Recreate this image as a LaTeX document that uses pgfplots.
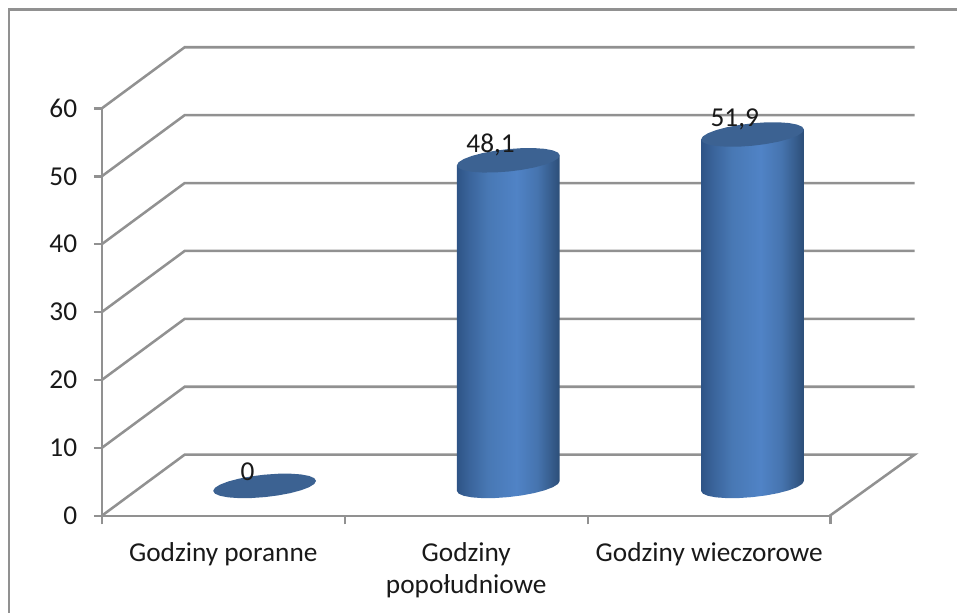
\documentclass[border=0pt]{standalone}
\usepackage{fontspec}
\setmainfont{Carlito}
\usepackage{pgfplots}
\usepackage{pgfplotstable}
\pgfplotsset{compat=1.18}
\definecolor{wallGray}{RGB}{145,145,145}
\definecolor{capBlue}{RGB}{60,98,146}
\definecolor{labelInk}{RGB}{25,25,25}
\definecolor{cylA}{RGB}{46,84,134}
\definecolor{cylB}{RGB}{58,100,155}
\definecolor{cylC}{RGB}{72,120,180}
\definecolor{cylD}{RGB}{80,131,198}
\definecolor{cylE}{RGB}{70,116,175}
\definecolor{cylF}{RGB}{54,92,140}
\definecolor{cylG}{RGB}{44,78,120}
% tikz maps the middle 50bp of a shading onto the path
\pgfdeclarehorizontalshading{cyl}{100bp}{
  color(0bp)=(cylA);
  color(25bp)=(cylA);
  color(31bp)=(cylB);
  color(40bp)=(cylC);
  color(54bp)=(cylD);
  color(64bp)=(cylE);
  color(71bp)=(cylF);
  color(75bp)=(cylG);
  color(100bp)=(cylG)}

% data labels: x position in the category, value
\pgfplotstableread{
pos v
0.60 0
1.60 48.1
2.605 51.9
}\barvalues

% back wall and floor, drawn by hand since the axis is flat
\pgfplotstableread{
x y
0 0
0.341 9
3.345 9
2.996 0
nan nan
0 10
0.341 19
3.345 19
nan nan
0 20
0.341 29
3.345 29
nan nan
0 30
0.341 39
3.345 39
nan nan
0 40
0.341 49
3.345 49
nan nan
0 50
0.341 59
3.345 59
nan nan
0 60
0.341 69
3.345 69
}\walls

% tilted ellipse outline, offsets from the cylinder centre
\pgfplotstableread{
dx dy
0.2116 0.736
0.2044 0.283
0.1833 -0.189
0.1496 -0.649
0.1058 -1.064
0.0548 -1.407
0 -1.653
-0.0548 -1.788
-0.1058 -1.800
-0.1496 -1.690
-0.1833 -1.464
-0.2044 -1.139
-0.2116 -0.736
-0.2044 -0.283
-0.1833 0.189
-0.1496 0.649
-0.1058 1.064
-0.0548 1.407
0 1.653
0.0548 1.788
0.1058 1.800
0.1496 1.690
0.1833 1.464
0.2044 1.139
0.2116 0.736
}\ellipseline

% cylinder side: h=1 on the top rim, h=0 on the floor
\pgfplotstableread{
dx dy h
0.2116 0.736 1
0.2116 0.736 0
0.2044 0.283 0
0.1833 -0.189 0
0.1496 -0.649 0
0.1058 -1.064 0
0.0548 -1.407 0
0 -1.653 0
-0.0548 -1.788 0
-0.1058 -1.800 0
-0.1496 -1.690 0
-0.1833 -1.464 0
-0.2044 -1.139 0
-0.2116 -0.736 0
-0.2116 -0.736 1
}\cylside

\begin{document}
\begin{tikzpicture}
  \begin{axis}[
      scale only axis,
      width=547.5pt, height=306pt,
      xmin=0, xmax=3, ymin=0, ymax=60,
      clip=false,
      unbounded coords=jump,
      axis x line=bottom, axis y line=left,
      axis line style={wallGray, line width=1.9pt, -},
      tick align=outside,
      ytick={0,10,...,60},
      xtick={0.5,1.5,2.5},
      xticklabels={Godziny poranne, {Godziny\\popołudniowe}, Godziny wieczorowe},
      minor xtick={0,1,2,3},
      major x tick style={draw=none},
      minor x tick style={draw=wallGray, line width=1.9pt},
      y tick style={draw=wallGray, line width=1.9pt},
      major tick length=6pt,
      minor tick length=6.5pt,
      /pgf/number format/assume math mode=true,
      tick label style={text=labelInk},
      y tick label style={font=\fontsize{20.5}{24}\selectfont, xshift=-9pt},
      x tick label style={font=\fontsize{20.5}{24}\selectfont, align=center, yshift=-10.5pt},
    ]
    % page corners
    \addplot[draw=none, mark=none] coordinates {(-0.419,75.96) (3.518,-14.34)};
    % chart frame, open to the right and below
    \addplot[wallGray, line width=2.1pt, mark=none] coordinates {(3.518,74.6) (-0.382,74.6) (-0.382,-14.34)};
    \addplot[wallGray, line width=1.9pt, mark=none] table {\walls};

    % first category is empty: only the disc
    \addplot[draw=none, fill=capBlue, mark=none] table[x expr=\thisrow{dx}+0.67, y expr=\thisrow{dy}+4.4] {\ellipseline};

    \addplot[draw=none, shading=cyl, mark=none] table[x expr=\thisrow{dx}+1.673, y expr=\thisrow{dy}+4.4+(48.1-0.15)*\thisrow{h}] {\cylside};
    \addplot[draw=none, fill=capBlue, mark=none] table[x expr=\thisrow{dx}+1.673, y expr=\thisrow{dy}+4.25+48.1] {\ellipseline};

    \addplot[draw=none, shading=cyl, mark=none] table[x expr=\thisrow{dx}+2.678, y expr=\thisrow{dy}+4.4+(51.9-0.15)*\thisrow{h}] {\cylside};
    \addplot[draw=none, fill=capBlue, mark=none] table[x expr=\thisrow{dx}+2.678, y expr=\thisrow{dy}+4.25+51.9] {\ellipseline};

    % value labels
    \addplot[draw=none, mark=none,
      point meta=\thisrow{v},
      nodes near coords,
      every node near coord/.style={anchor=center, text=labelInk, inner sep=0pt,
        font=\fontsize{20.5}{24}\selectfont,
        /pgf/number format/use comma,
        /pgf/number format/assume math mode=true},
    ] table[x=pos, y expr=\thisrow{v}+6.5] {\barvalues};
  \end{axis}
\end{tikzpicture}
\end{document}
